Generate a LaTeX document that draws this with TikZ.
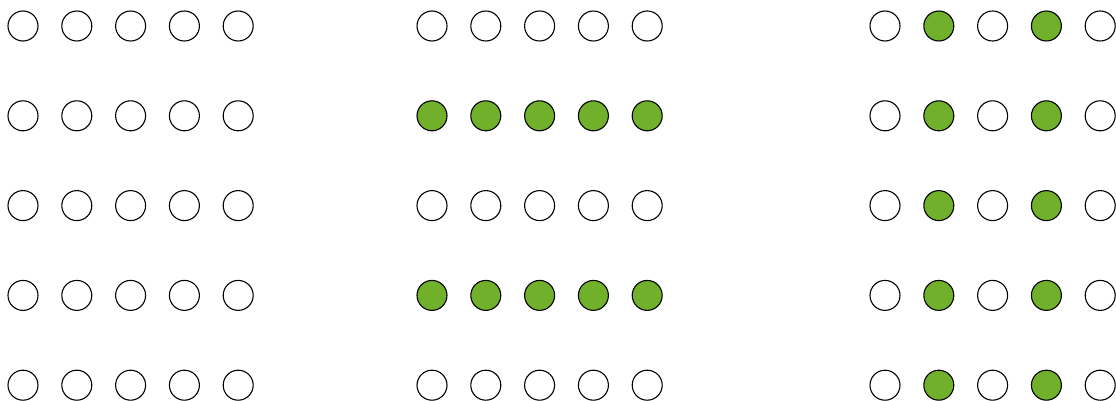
\documentclass[tikz,border=0pt]{standalone}
\definecolor{leaf}{RGB}{112,176,42}
\begin{document}
\begin{tikzpicture}[x=1pt,y=-1pt,
  dot/.style={circle,draw=black,line width=1.1pt,minimum size=30pt,inner sep=0pt,fill=white},
  on/.style={dot,fill=leaf}]
\useasboundingbox (0,0) rectangle (1116,401);
\foreach \g/\xo in {0/23,1/432,2/885}{
  \foreach \c in {0,...,4}{
    \foreach \r in {0,...,4}{
      \pgfmathtruncatemacro{\isOn}{(\g==1 && (\r==1 || \r==3)) || (\g==2 && (\c==1 || \c==3)) ? 1 : 0}
      \ifnum\isOn=1
        \node[on] (n\g-\r-\c) at ({\xo+53.8*\c},{26+89.8*\r}) {};
      \else
        \node[dot] (n\g-\r-\c) at ({\xo+53.8*\c},{26+89.8*\r}) {};
      \fi
    }
  }
}
\end{tikzpicture}
\end{document}
